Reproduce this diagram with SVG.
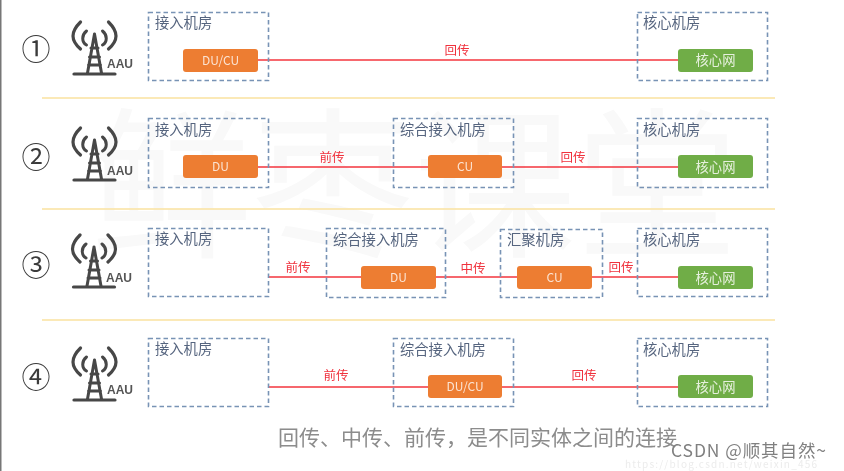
<svg xmlns="http://www.w3.org/2000/svg" width="844" height="471" viewBox="0 0 844 471">
<style>
text{font-family:"Noto Sans CJK SC","Noto Sans","Liberation Sans",sans-serif}
.room{fill:none;stroke:#7893b5;stroke-width:1.6;stroke-dasharray:4.5 3}
.rl{font-size:14.300px;fill:#56657f}
.num{font-size:29px;fill:#3a3a3a;text-anchor:middle;dominant-baseline:central}
.or{fill:#ed7d31}.gr{fill:#70ad47}
.bl{font-size:12px;fill:#fbe3d3;text-anchor:middle}
.gl{font-size:13.300px;fill:#e6f0dd;text-anchor:middle}
.wire{stroke:#f4353f;stroke-width:1.5;fill:none}
.wl{font-size:12.500px;fill:#f0303c;text-anchor:middle}
.sep{stroke:#fae2a0;stroke-width:1.4;fill:none}
.aau{font-size:12px;font-weight:700;fill:#555;font-family:"Liberation Sans",sans-serif}
.tw{fill:none;stroke:#474747;stroke-linecap:round}
</style>
<defs>
<filter id="soft" x="0" y="0" width="100%" height="100%"><feGaussianBlur stdDeviation="0.45"/></filter>
<g id="tower">
<path class="tw" stroke-width="3.200" d="M-14-24C-24-14-24-6-14 3M14-24C24-14 24-6 14 3"/>
<path class="tw" stroke-width="3" d="M-8-15C-13-11-13-4-8-1M8-15C13-11 13-4 8-1"/>
<path class="tw" stroke-width="3" d="M0-12L-7 27M0-12L7 27M-3.500 2H3.500M-5 11H5M-6 19H6"/>
<path class="tw" stroke-width="3.200" d="M-20.500 28H20.500"/>
</g>
</defs>
<rect width="844" height="471" fill="#fff"/>
<g filter="url(#soft)">
<rect width="1.500" height="471" fill="#777"/>
<text x="90" y="245" font-size="162" fill="#f9f9f9">鲜枣课堂</text>
<g id="separators"><path class="sep" d="M42 98H775M42 209H775M42 320H775"/></g>
<g id="connectors">
<path class="wire" d="M258 60H678"/>
<path class="wire" d="M258 167H428M502 167H678"/>
<path class="wire" d="M268 277H361M436 277H517M592 277H678"/>
<path class="wire" d="M268 387H428M502 387H678"/>
<text class="wl" x="457" y="55">回传</text>
<text class="wl" x="332" y="162">前传</text>
<text class="wl" x="573" y="162">回传</text>
<text class="wl" x="298" y="272">前传</text>
<text class="wl" x="473" y="273">中传</text>
<text class="wl" x="621" y="272">回传</text>
<text class="wl" x="336" y="380">前传</text>
<text class="wl" x="584" y="380">回传</text>
</g>
<g id="row1">
<text class="num" x="36" y="47">①</text>
<use href="#tower" x="94.500" y="46"/><text class="aau" x="107" y="68">AAU</text>
<g id="r1-access"><rect class="room" x="148.500" y="12.500" width="120" height="68"/><text class="rl" x="155" y="28">接入机房</text></g>
<g id="r1-ducu"><rect class="or" x="183" y="49" width="75" height="23" rx="3"/><text class="bl" x="220.500" y="65">DU/CU</text></g>
<g id="r1-core"><rect class="room" x="637.500" y="12.500" width="130" height="68"/><text class="rl" x="643" y="28">核心机房</text></g>
<g id="r1-net"><rect class="gr" x="678" y="49" width="75" height="23" rx="3"/><text class="gl" x="715.500" y="65">核心网</text></g>
</g>
<g id="row2">
<text class="num" x="36" y="155">②</text>
<use href="#tower" x="94.500" y="152"/><text class="aau" x="107" y="175">AAU</text>
<g id="r2-access"><rect class="room" x="148.500" y="118.500" width="120" height="69"/><text class="rl" x="155" y="135">接入机房</text></g>
<g id="r2-du"><rect class="or" x="183" y="155" width="75" height="23" rx="3"/><text class="bl" x="220.500" y="171">DU</text></g>
<g id="r2-mid"><rect class="room" x="393.500" y="118.500" width="120" height="69"/><text class="rl" x="400" y="135">综合接入机房</text></g>
<g id="r2-cu"><rect class="or" x="428" y="155" width="74" height="23" rx="3"/><text class="bl" x="465" y="171">CU</text></g>
<g id="r2-core"><rect class="room" x="637.500" y="118.500" width="130" height="69"/><text class="rl" x="643" y="135">核心机房</text></g>
<g id="r2-net"><rect class="gr" x="678" y="155" width="75" height="23" rx="3"/><text class="gl" x="715.500" y="172">核心网</text></g>
</g>
<g id="row3">
<text class="num" x="36" y="263">③</text>
<use href="#tower" x="94" y="259"/><text class="aau" x="106" y="282">AAU</text>
<g id="r3-access"><rect class="room" x="148.500" y="228.500" width="120" height="68"/><text class="rl" x="155" y="244">接入机房</text></g>
<g id="r3-mid"><rect class="room" x="326.500" y="228.500" width="119" height="69"/><text class="rl" x="333" y="245">综合接入机房</text></g>
<g id="r3-du"><rect class="or" x="361" y="266" width="75" height="23" rx="3"/><text class="bl" x="398.500" y="282">DU</text></g>
<g id="r3-agg"><rect class="room" x="500.500" y="229.500" width="102" height="68"/><text class="rl" x="507" y="245">汇聚机房</text></g>
<g id="r3-cu"><rect class="or" x="517" y="266" width="75" height="23" rx="3"/><text class="bl" x="554.500" y="282">CU</text></g>
<g id="r3-core"><rect class="room" x="637.500" y="228.500" width="130" height="68"/><text class="rl" x="643" y="245">核心机房</text></g>
<g id="r3-net"><rect class="gr" x="678" y="266" width="75" height="23" rx="3"/><text class="gl" x="715.500" y="283">核心网</text></g>
</g>
<g id="row4">
<text class="num" x="36" y="375">④</text>
<use href="#tower" x="94.500" y="372"/><text class="aau" x="107" y="394">AAU</text>
<g id="r4-access"><rect class="room" x="148.500" y="338.500" width="120" height="68"/><text class="rl" x="155" y="354">接入机房</text></g>
<g id="r4-mid"><rect class="room" x="393.500" y="338.500" width="120" height="68"/><text class="rl" x="400" y="355">综合接入机房</text></g>
<g id="r4-ducu"><rect class="or" x="428" y="375" width="74" height="23" rx="3"/><text class="bl" x="465" y="391">DU/CU</text></g>
<g id="r4-core"><rect class="room" x="637.500" y="338.500" width="130" height="68"/><text class="rl" x="643" y="355">核心机房</text></g>
<g id="r4-net"><rect class="gr" x="678" y="375" width="75" height="23" rx="3"/><text class="gl" x="715.500" y="392">核心网</text></g>
</g>
<text x="278" y="445" font-size="21" fill="#8c8c8c">回传、中传、前传，是不同实体之间的连接</text>
<text x="671" y="457" font-size="17.500" letter-spacing="0.900" fill="#808080" font-family="Liberation Sans">CSDN @顺其自然~</text>
<text x="625" y="468" font-size="10" letter-spacing="1.200" fill="#ececec">https://blog.csdn.net/weixin_456</text>
</g>
</svg>
